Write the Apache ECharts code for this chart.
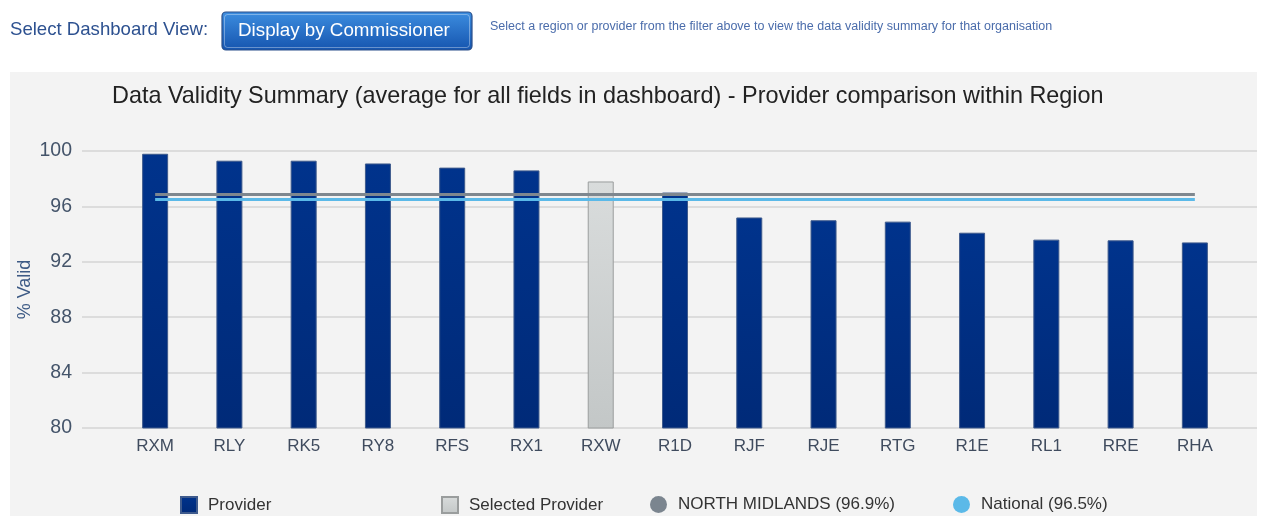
<!DOCTYPE html>
<html>
<head>
<meta charset="utf-8">
<title>Data Validity Summary</title>
<script src="https://cdn.jsdelivr.net/npm/echarts@6/dist/echarts.min.js"></script>
<style>
  html, body { margin: 0; padding: 0; background: #ffffff; }
  #chart { width: 1267px; height: 516px; }
</style>
</head>
<body>
<div id="chart"></div>
<script>
// Providers in the region, sorted by validity
const providers = ['RXM', 'RLY', 'RK5', 'RY8', 'RFS', 'RX1', 'RXW', 'R1D', 'RJF', 'RJE', 'RTG', 'R1E', 'RL1', 'RRE', 'RHA'];
// Average % valid per provider
const validity = [99.8, 99.3, 99.3, 99.1, 98.8, 98.6, 97.8, 97.0, 95.2, 95.0, 94.9, 94.1, 93.6, 93.55, 93.4];
// Currently selected provider
const selectedProvider = 'RXW';
// Benchmarks
const regionName = 'NORTH MIDLANDS';
const regionAverage = 96.9;
const nationalAverage = 96.5;
// Value axis ticks
const yMin = 80, yMax = 100, yStep = 4;

const providerData = providers.map((p, i) => p === selectedProvider ? null : validity[i]);
const selectedData = providers.map((p, i) => p === selectedProvider ? validity[i] : null);

const font = '"Liberation Sans", Arial, sans-serif';
const chart = echarts.init(document.getElementById('chart'), null, { renderer: 'canvas' });

const navy = new echarts.graphic.LinearGradient(0, 0, 0, 1, [
  { offset: 0, color: '#00338c' }, { offset: 1, color: '#002a78' }
]);
const lightGrey = new echarts.graphic.LinearGradient(0, 0, 0, 1, [
  { offset: 0, color: '#d9dcdc' }, { offset: 1, color: '#c3c7c7' }
]);

const firstCat = providers[0], lastCat = providers[providers.length - 1];

const legendBase = {
  top: 491, itemWidth: 16, itemHeight: 16, itemGap: 12,
  textStyle: { fontFamily: font, fontSize: 17, color: '#333333', padding: [0, 0, 0, 6] },
  selectedMode: false
};

chart.setOption({
  animation: false,
  backgroundColor: '#ffffff',
  graphic: [
    { type: 'rect', z: -10, shape: { x: 10, y: 72, width: 1247, height: 444 }, style: { fill: '#f3f3f3' } },
    { type: 'text', left: 10, top: 20, style: { text: 'Select Dashboard View:', font: '18.6px ' + font, fill: '#2d5190' } },
    { type: 'rect', shape: { x: 222, y: 12, width: 250, height: 38, r: 4 },
      style: { fill: new echarts.graphic.LinearGradient(0, 0, 0, 1, [
        { offset: 0, color: '#3d8ee0' }, { offset: 1, color: '#1554ae' }
      ]), stroke: '#2a4f8a', lineWidth: 1.2 } },
    { type: 'rect', shape: { x: 224.5, y: 14.5, width: 245, height: 33, r: 3 },
      style: { fill: 'none', stroke: 'rgba(255,255,255,0.35)', lineWidth: 1 } },
    { type: 'text', left: 238, top: 21, style: { text: 'Display by Commissioner', font: '18.8px ' + font, fill: '#ffffff' } },
    { type: 'text', left: 490, top: 20, style: { text: 'Select a region or provider from the filter above to view the data validity summary for that organisation', font: '12.5px ' + font, fill: '#4a6cab' } }
  ],
  title: {
    text: 'Data Validity Summary (average for all fields in dashboard) - Provider comparison within Region',
    left: 107, top: 80,
    textStyle: { fontFamily: font, fontSize: 23.4, fontWeight: 'normal', color: '#222222' }
  },
  legend: [
    Object.assign({}, legendBase, { left: 175, data: [{ name: 'Provider', icon: 'rect' }] }),
    Object.assign({}, legendBase, { left: 436, data: [{ name: 'Selected Provider', icon: 'rect' }] }),
    Object.assign({}, legendBase, { left: 645, itemWidth: 17, itemHeight: 17, data: [{ name: regionName + ' (' + regionAverage + '%)', icon: 'circle' }] }),
    Object.assign({}, legendBase, { left: 948, itemWidth: 17, itemHeight: 17, data: [{ name: 'National (' + nationalAverage + '%)', icon: 'circle' }] })
  ],
  grid: [
    { left: 82, right: 10, top: 151, bottom: 88 },
    { left: 118, right: 35, top: 151, bottom: 88 }
  ],
  xAxis: [
    { type: 'category', gridIndex: 0, data: providers, show: false },
    { type: 'category', gridIndex: 1, data: providers, boundaryGap: true,
      axisLine: { show: false }, axisTick: { show: false },
      axisLabel: { fontFamily: font, fontSize: 17, color: '#3f4b5e', margin: 10 } }
  ],
  yAxis: [
    { type: 'value', gridIndex: 0, min: yMin, max: yMax, interval: yStep,
      name: '% Valid', nameLocation: 'middle', nameGap: 48, nameRotate: 90, nameMoveOverlap: false,
      nameTextStyle: { fontFamily: font, fontSize: 18, color: '#3d5a85' },
      axisLine: { show: false }, axisTick: { show: false },
      axisLabel: { fontFamily: font, fontSize: 19.5, color: '#44546a', margin: 10 },
      splitLine: { lineStyle: { color: '#d4d4d4', width: 1.5 } } },
    { type: 'value', gridIndex: 1, min: yMin, max: yMax, interval: yStep, show: false, splitLine: { show: false } }
  ],
  series: [
    { name: 'Provider', type: 'bar', xAxisIndex: 1, yAxisIndex: 1, data: providerData,
      barWidth: 26, barGap: '-100%',
      itemStyle: { color: navy, borderColor: '#3e5a8c', borderWidth: 1 } },
    { name: 'Selected Provider', type: 'bar', xAxisIndex: 1, yAxisIndex: 1, data: selectedData,
      barWidth: 26, barGap: '-100%',
      itemStyle: { color: lightGrey, borderColor: '#9a9d9d', borderWidth: 1 } },
    { name: regionName + ' (' + regionAverage + '%)', type: 'line', xAxisIndex: 1, yAxisIndex: 1, data: [],
      itemStyle: { color: '#7b858f' }, lineStyle: { color: '#7b858f' },
      markLine: { silent: true, symbol: 'none', z: 10, label: { show: false },
        lineStyle: { color: '#7e878f', width: 3, type: 'solid' },
        data: [[{ xAxis: firstCat, yAxis: regionAverage }, { xAxis: lastCat, yAxis: regionAverage }]] } },
    { name: 'National (' + nationalAverage + '%)', type: 'line', xAxisIndex: 1, yAxisIndex: 1, data: [],
      itemStyle: { color: '#5bb9e8' }, lineStyle: { color: '#5bb9e8' },
      markLine: { silent: true, symbol: 'none', z: 10, label: { show: false },
        lineStyle: { color: '#5bb9e8', width: 3, type: 'solid' },
        data: [[{ xAxis: firstCat, yAxis: nationalAverage }, { xAxis: lastCat, yAxis: nationalAverage }]] } }
  ]
});
</script>
</body>
</html>
